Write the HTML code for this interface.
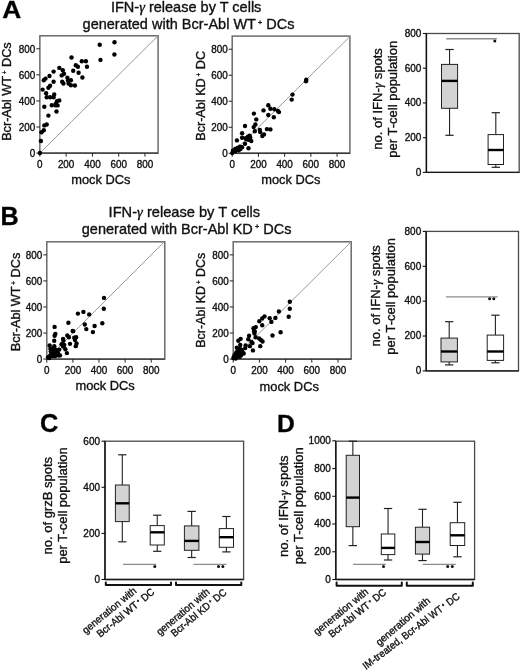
<!DOCTYPE html>
<html><head><meta charset="utf-8"><style>
html,body{margin:0;padding:0;background:#fff;}
svg{display:block;font-family:"Liberation Sans", sans-serif;filter:grayscale(100%);}
text{stroke:#111;stroke-width:0.35px;}
</style></head><body>
<svg width="520" height="671" viewBox="0 0 520 671">
<rect width="520" height="671" fill="#fff"/>
<text x="2.22" y="18.20" font-size="24.44" text-anchor="start" fill="#000" font-weight="bold" textLength="19.00" lengthAdjust="spacingAndGlyphs" >A</text>
<text x="0.59" y="224.80" font-size="25.14" text-anchor="start" fill="#000" font-weight="bold" >B</text>
<text x="40.09" y="431.80" font-size="25.28" text-anchor="start" fill="#000" font-weight="bold" >C</text>
<text x="276.92" y="432.10" font-size="24.58" text-anchor="start" fill="#000" font-weight="bold" >D</text>
<text x="110.90" y="12.20" font-size="14.4" text-anchor="start" fill="#111" textLength="150.50" lengthAdjust="spacingAndGlyphs" >IFN-<tspan font-family="Liberation Serif" font-style="italic">γ</tspan> release by T cells</text>
<text x="82.60" y="29.20" font-size="14.4" text-anchor="start" fill="#111" textLength="212.00" lengthAdjust="spacingAndGlyphs" >generated with Bcr-Abl WT<tspan font-size="0.5em" dx="0.3em" dy="-0.62em">+</tspan><tspan dx="0.0em" dy="0.31em"> </tspan>DCs</text>
<text x="108.60" y="217.20" font-size="14.4" text-anchor="start" fill="#111" textLength="151.60" lengthAdjust="spacingAndGlyphs" >IFN-<tspan font-family="Liberation Serif" font-style="italic">γ</tspan> release by T cells</text>
<text x="81.80" y="233.60" font-size="14.4" text-anchor="start" fill="#111" textLength="209.70" lengthAdjust="spacingAndGlyphs" >generated with Bcr-Abl KD<tspan font-size="0.5em" dx="0.3em" dy="-0.62em">+</tspan><tspan dx="0.0em" dy="0.31em"> </tspan>DCs</text>
<rect x="39.85" y="35.80" width="118.25" height="117.30" fill="none" stroke="#6a6a6a" stroke-width="1.5"/>
<line x1="39.85" y1="153.10" x2="158.05" y2="35.80" stroke="#9a9a9a" stroke-width="1.0"/>
<line x1="39.85" y1="153.10" x2="158.10" y2="153.10" stroke="#3a3a3a" stroke-width="1.4"/>
<line x1="36.35" y1="153.10" x2="39.85" y2="153.10" stroke="#222" stroke-width="1"/>
<text x="35.35" y="157.10" font-size="10" text-anchor="end" fill="#111" textLength="5.50" lengthAdjust="spacingAndGlyphs" >0</text>
<line x1="39.85" y1="153.10" x2="39.85" y2="156.60" stroke="#222" stroke-width="1"/>
<text x="39.85" y="167.80" font-size="10" text-anchor="middle" fill="#111" textLength="5.50" lengthAdjust="spacingAndGlyphs" >0</text>
<line x1="36.35" y1="127.02" x2="39.85" y2="127.02" stroke="#222" stroke-width="1"/>
<text x="35.35" y="131.02" font-size="10" text-anchor="end" fill="#111" textLength="16.50" lengthAdjust="spacingAndGlyphs" >200</text>
<line x1="66.13" y1="153.10" x2="66.13" y2="156.60" stroke="#222" stroke-width="1"/>
<text x="66.13" y="167.80" font-size="10" text-anchor="middle" fill="#111" textLength="16.50" lengthAdjust="spacingAndGlyphs" >200</text>
<line x1="36.35" y1="100.94" x2="39.85" y2="100.94" stroke="#222" stroke-width="1"/>
<text x="35.35" y="104.94" font-size="10" text-anchor="end" fill="#111" textLength="16.50" lengthAdjust="spacingAndGlyphs" >400</text>
<line x1="92.41" y1="153.10" x2="92.41" y2="156.60" stroke="#222" stroke-width="1"/>
<text x="92.41" y="167.80" font-size="10" text-anchor="middle" fill="#111" textLength="16.50" lengthAdjust="spacingAndGlyphs" >400</text>
<line x1="36.35" y1="74.86" x2="39.85" y2="74.86" stroke="#222" stroke-width="1"/>
<text x="35.35" y="78.86" font-size="10" text-anchor="end" fill="#111" textLength="16.50" lengthAdjust="spacingAndGlyphs" >600</text>
<line x1="118.69" y1="153.10" x2="118.69" y2="156.60" stroke="#222" stroke-width="1"/>
<text x="118.69" y="167.80" font-size="10" text-anchor="middle" fill="#111" textLength="16.50" lengthAdjust="spacingAndGlyphs" >600</text>
<line x1="36.35" y1="48.78" x2="39.85" y2="48.78" stroke="#222" stroke-width="1"/>
<text x="35.35" y="52.78" font-size="10" text-anchor="end" fill="#111" textLength="16.50" lengthAdjust="spacingAndGlyphs" >800</text>
<line x1="144.97" y1="153.10" x2="144.97" y2="156.60" stroke="#222" stroke-width="1"/>
<text x="144.97" y="167.80" font-size="10" text-anchor="middle" fill="#111" textLength="16.50" lengthAdjust="spacingAndGlyphs" >800</text>
<circle cx="71.50" cy="57.50" r="2.2" fill="#000"/>
<circle cx="81.80" cy="61.30" r="2.2" fill="#000"/>
<circle cx="85.90" cy="61.30" r="2.2" fill="#000"/>
<circle cx="75.80" cy="65.30" r="2.2" fill="#000"/>
<circle cx="77.90" cy="66.70" r="2.2" fill="#000"/>
<circle cx="87.00" cy="66.70" r="2.2" fill="#000"/>
<circle cx="59.30" cy="67.90" r="2.2" fill="#000"/>
<circle cx="62.80" cy="70.20" r="2.2" fill="#000"/>
<circle cx="73.20" cy="70.80" r="2.2" fill="#000"/>
<circle cx="53.60" cy="71.60" r="2.2" fill="#000"/>
<circle cx="64.00" cy="73.70" r="2.2" fill="#000"/>
<circle cx="78.60" cy="72.70" r="2.2" fill="#000"/>
<circle cx="61.70" cy="75.40" r="2.2" fill="#000"/>
<circle cx="49.50" cy="76.00" r="2.2" fill="#000"/>
<circle cx="82.40" cy="77.50" r="2.2" fill="#000"/>
<circle cx="67.40" cy="77.70" r="2.2" fill="#000"/>
<circle cx="45.50" cy="78.60" r="2.2" fill="#000"/>
<circle cx="43.80" cy="80.20" r="2.2" fill="#000"/>
<circle cx="70.90" cy="80.20" r="2.2" fill="#000"/>
<circle cx="68.00" cy="80.60" r="2.2" fill="#000"/>
<circle cx="53.60" cy="81.70" r="2.2" fill="#000"/>
<circle cx="62.20" cy="81.70" r="2.2" fill="#000"/>
<circle cx="63.40" cy="83.50" r="2.2" fill="#000"/>
<circle cx="68.60" cy="83.50" r="2.2" fill="#000"/>
<circle cx="70.90" cy="85.20" r="2.2" fill="#000"/>
<circle cx="74.90" cy="85.50" r="2.2" fill="#000"/>
<circle cx="50.10" cy="85.80" r="2.2" fill="#000"/>
<circle cx="48.40" cy="87.80" r="2.2" fill="#000"/>
<circle cx="42.60" cy="89.60" r="2.2" fill="#000"/>
<circle cx="46.10" cy="93.30" r="2.2" fill="#000"/>
<circle cx="54.20" cy="94.40" r="2.2" fill="#000"/>
<circle cx="46.70" cy="97.30" r="2.2" fill="#000"/>
<circle cx="50.10" cy="97.30" r="2.2" fill="#000"/>
<circle cx="53.60" cy="97.30" r="2.2" fill="#000"/>
<circle cx="59.30" cy="100.40" r="2.2" fill="#000"/>
<circle cx="57.00" cy="101.30" r="2.2" fill="#000"/>
<circle cx="51.80" cy="105.20" r="2.2" fill="#000"/>
<circle cx="55.30" cy="105.20" r="2.2" fill="#000"/>
<circle cx="57.60" cy="105.40" r="2.2" fill="#000"/>
<circle cx="55.90" cy="103.70" r="2.2" fill="#000"/>
<circle cx="44.30" cy="106.80" r="2.2" fill="#000"/>
<circle cx="56.50" cy="111.50" r="2.2" fill="#000"/>
<circle cx="48.40" cy="115.60" r="2.2" fill="#000"/>
<circle cx="44.30" cy="125.40" r="2.2" fill="#000"/>
<circle cx="46.70" cy="124.50" r="2.2" fill="#000"/>
<circle cx="43.80" cy="130.20" r="2.2" fill="#000"/>
<circle cx="41.50" cy="132.30" r="2.2" fill="#000"/>
<circle cx="40.90" cy="141.00" r="2.2" fill="#000"/>
<circle cx="39.90" cy="153.00" r="2.2" fill="#000"/>
<circle cx="99.70" cy="44.70" r="2.2" fill="#000"/>
<circle cx="114.50" cy="42.30" r="2.2" fill="#000"/>
<circle cx="114.40" cy="54.50" r="2.2" fill="#000"/>
<circle cx="100.50" cy="59.90" r="2.2" fill="#000"/>
<text x="100.90" y="183.50" font-size="12.8" text-anchor="middle" fill="#111" textLength="59.30" lengthAdjust="spacingAndGlyphs" >mock DCs</text>
<text x="10.70" y="91.60" font-size="12.6" text-anchor="middle" fill="#111" textLength="98.50" lengthAdjust="spacingAndGlyphs" transform="rotate(-90 10.70 91.60)" >Bcr-Abl WT<tspan font-size="0.5em" dx="0.3em" dy="-0.62em">+</tspan><tspan dx="0.0em" dy="0.31em"> </tspan>DCs</text>
<rect x="232.20" y="36.10" width="117.70" height="117.20" fill="none" stroke="#6a6a6a" stroke-width="1.5"/>
<line x1="232.20" y1="153.30" x2="349.90" y2="36.50" stroke="#9a9a9a" stroke-width="1.0"/>
<line x1="232.20" y1="153.30" x2="349.90" y2="153.30" stroke="#3a3a3a" stroke-width="1.4"/>
<line x1="228.70" y1="153.30" x2="232.20" y2="153.30" stroke="#222" stroke-width="1"/>
<text x="227.70" y="157.30" font-size="10" text-anchor="end" fill="#111" textLength="5.50" lengthAdjust="spacingAndGlyphs" >0</text>
<line x1="232.20" y1="153.30" x2="232.20" y2="156.80" stroke="#222" stroke-width="1"/>
<text x="232.20" y="168.00" font-size="10" text-anchor="middle" fill="#111" textLength="5.50" lengthAdjust="spacingAndGlyphs" >0</text>
<line x1="228.70" y1="127.28" x2="232.20" y2="127.28" stroke="#222" stroke-width="1"/>
<text x="227.70" y="131.28" font-size="10" text-anchor="end" fill="#111" textLength="16.50" lengthAdjust="spacingAndGlyphs" >200</text>
<line x1="258.42" y1="153.30" x2="258.42" y2="156.80" stroke="#222" stroke-width="1"/>
<text x="258.42" y="168.00" font-size="10" text-anchor="middle" fill="#111" textLength="16.50" lengthAdjust="spacingAndGlyphs" >200</text>
<line x1="228.70" y1="101.26" x2="232.20" y2="101.26" stroke="#222" stroke-width="1"/>
<text x="227.70" y="105.26" font-size="10" text-anchor="end" fill="#111" textLength="16.50" lengthAdjust="spacingAndGlyphs" >400</text>
<line x1="284.64" y1="153.30" x2="284.64" y2="156.80" stroke="#222" stroke-width="1"/>
<text x="284.64" y="168.00" font-size="10" text-anchor="middle" fill="#111" textLength="16.50" lengthAdjust="spacingAndGlyphs" >400</text>
<line x1="228.70" y1="75.24" x2="232.20" y2="75.24" stroke="#222" stroke-width="1"/>
<text x="227.70" y="79.24" font-size="10" text-anchor="end" fill="#111" textLength="16.50" lengthAdjust="spacingAndGlyphs" >600</text>
<line x1="310.86" y1="153.30" x2="310.86" y2="156.80" stroke="#222" stroke-width="1"/>
<text x="310.86" y="168.00" font-size="10" text-anchor="middle" fill="#111" textLength="16.50" lengthAdjust="spacingAndGlyphs" >600</text>
<line x1="228.70" y1="49.22" x2="232.20" y2="49.22" stroke="#222" stroke-width="1"/>
<text x="227.70" y="53.22" font-size="10" text-anchor="end" fill="#111" textLength="16.50" lengthAdjust="spacingAndGlyphs" >800</text>
<line x1="337.08" y1="153.30" x2="337.08" y2="156.80" stroke="#222" stroke-width="1"/>
<text x="337.08" y="168.00" font-size="10" text-anchor="middle" fill="#111" textLength="16.50" lengthAdjust="spacingAndGlyphs" >800</text>
<circle cx="268.30" cy="105.20" r="2.2" fill="#000"/>
<circle cx="270.40" cy="108.70" r="2.2" fill="#000"/>
<circle cx="274.40" cy="109.20" r="2.2" fill="#000"/>
<circle cx="277.90" cy="111.00" r="2.2" fill="#000"/>
<circle cx="279.00" cy="112.10" r="2.2" fill="#000"/>
<circle cx="263.50" cy="110.40" r="2.2" fill="#000"/>
<circle cx="253.90" cy="113.60" r="2.2" fill="#000"/>
<circle cx="268.30" cy="115.00" r="2.2" fill="#000"/>
<circle cx="273.80" cy="117.30" r="2.2" fill="#000"/>
<circle cx="256.30" cy="119.40" r="2.2" fill="#000"/>
<circle cx="255.40" cy="124.50" r="2.2" fill="#000"/>
<circle cx="253.70" cy="127.10" r="2.2" fill="#000"/>
<circle cx="245.00" cy="126.00" r="2.2" fill="#000"/>
<circle cx="259.80" cy="130.00" r="2.2" fill="#000"/>
<circle cx="260.20" cy="132.10" r="2.2" fill="#000"/>
<circle cx="254.80" cy="131.20" r="2.2" fill="#000"/>
<circle cx="266.90" cy="129.10" r="2.2" fill="#000"/>
<circle cx="270.40" cy="129.40" r="2.2" fill="#000"/>
<circle cx="242.10" cy="133.20" r="2.2" fill="#000"/>
<circle cx="264.00" cy="134.40" r="2.2" fill="#000"/>
<circle cx="262.30" cy="136.00" r="2.2" fill="#000"/>
<circle cx="242.10" cy="137.80" r="2.2" fill="#000"/>
<circle cx="247.90" cy="136.70" r="2.2" fill="#000"/>
<circle cx="250.20" cy="137.50" r="2.2" fill="#000"/>
<circle cx="246.20" cy="139.20" r="2.2" fill="#000"/>
<circle cx="248.50" cy="139.80" r="2.2" fill="#000"/>
<circle cx="251.30" cy="141.00" r="2.2" fill="#000"/>
<circle cx="236.90" cy="140.40" r="2.2" fill="#000"/>
<circle cx="245.00" cy="143.80" r="2.2" fill="#000"/>
<circle cx="248.50" cy="148.20" r="2.2" fill="#000"/>
<circle cx="242.10" cy="147.30" r="2.2" fill="#000"/>
<circle cx="239.80" cy="146.70" r="2.2" fill="#000"/>
<circle cx="237.50" cy="147.90" r="2.2" fill="#000"/>
<circle cx="235.20" cy="149.00" r="2.2" fill="#000"/>
<circle cx="238.70" cy="150.20" r="2.2" fill="#000"/>
<circle cx="232.90" cy="150.80" r="2.2" fill="#000"/>
<circle cx="232.30" cy="153.10" r="2.2" fill="#000"/>
<circle cx="235.20" cy="151.30" r="2.2" fill="#000"/>
<circle cx="236.30" cy="149.60" r="2.2" fill="#000"/>
<circle cx="240.40" cy="149.00" r="2.2" fill="#000"/>
<circle cx="245.60" cy="138.10" r="2.2" fill="#000"/>
<circle cx="249.60" cy="135.80" r="2.2" fill="#000"/>
<circle cx="306.30" cy="79.80" r="2.2" fill="#000"/>
<circle cx="306.00" cy="81.30" r="2.2" fill="#000"/>
<circle cx="292.50" cy="94.60" r="2.2" fill="#000"/>
<circle cx="291.70" cy="99.60" r="2.2" fill="#000"/>
<text x="290.90" y="183.50" font-size="12.8" text-anchor="middle" fill="#111" textLength="59.30" lengthAdjust="spacingAndGlyphs" >mock DCs</text>
<text x="205.20" y="95.85" font-size="12.6" text-anchor="middle" fill="#111" textLength="89.90" lengthAdjust="spacingAndGlyphs" transform="rotate(-90 205.20 95.85)" >Bcr-Abl KD<tspan font-size="0.5em" dx="0.3em" dy="-0.62em">+</tspan><tspan dx="0.0em" dy="0.31em"> </tspan>DC</text>
<rect x="46.80" y="241.80" width="118.00" height="117.30" fill="none" stroke="#6a6a6a" stroke-width="1.5"/>
<line x1="46.80" y1="359.10" x2="164.28" y2="241.80" stroke="#9a9a9a" stroke-width="1.0"/>
<line x1="46.80" y1="359.10" x2="164.80" y2="359.10" stroke="#3a3a3a" stroke-width="1.4"/>
<line x1="43.30" y1="359.10" x2="46.80" y2="359.10" stroke="#222" stroke-width="1"/>
<text x="42.30" y="363.10" font-size="10" text-anchor="end" fill="#111" textLength="5.50" lengthAdjust="spacingAndGlyphs" >0</text>
<line x1="46.80" y1="359.10" x2="46.80" y2="362.60" stroke="#222" stroke-width="1"/>
<text x="46.80" y="373.80" font-size="10" text-anchor="middle" fill="#111" textLength="5.50" lengthAdjust="spacingAndGlyphs" >0</text>
<line x1="43.30" y1="333.04" x2="46.80" y2="333.04" stroke="#222" stroke-width="1"/>
<text x="42.30" y="337.04" font-size="10" text-anchor="end" fill="#111" textLength="16.50" lengthAdjust="spacingAndGlyphs" >200</text>
<line x1="72.90" y1="359.10" x2="72.90" y2="362.60" stroke="#222" stroke-width="1"/>
<text x="72.90" y="373.80" font-size="10" text-anchor="middle" fill="#111" textLength="16.50" lengthAdjust="spacingAndGlyphs" >200</text>
<line x1="43.30" y1="306.98" x2="46.80" y2="306.98" stroke="#222" stroke-width="1"/>
<text x="42.30" y="310.98" font-size="10" text-anchor="end" fill="#111" textLength="16.50" lengthAdjust="spacingAndGlyphs" >400</text>
<line x1="99.00" y1="359.10" x2="99.00" y2="362.60" stroke="#222" stroke-width="1"/>
<text x="99.00" y="373.80" font-size="10" text-anchor="middle" fill="#111" textLength="16.50" lengthAdjust="spacingAndGlyphs" >400</text>
<line x1="43.30" y1="280.92" x2="46.80" y2="280.92" stroke="#222" stroke-width="1"/>
<text x="42.30" y="284.92" font-size="10" text-anchor="end" fill="#111" textLength="16.50" lengthAdjust="spacingAndGlyphs" >600</text>
<line x1="125.10" y1="359.10" x2="125.10" y2="362.60" stroke="#222" stroke-width="1"/>
<text x="125.10" y="373.80" font-size="10" text-anchor="middle" fill="#111" textLength="16.50" lengthAdjust="spacingAndGlyphs" >600</text>
<line x1="43.30" y1="254.86" x2="46.80" y2="254.86" stroke="#222" stroke-width="1"/>
<text x="42.30" y="258.86" font-size="10" text-anchor="end" fill="#111" textLength="16.50" lengthAdjust="spacingAndGlyphs" >800</text>
<line x1="151.20" y1="359.10" x2="151.20" y2="362.60" stroke="#222" stroke-width="1"/>
<text x="151.20" y="373.80" font-size="10" text-anchor="middle" fill="#111" textLength="16.50" lengthAdjust="spacingAndGlyphs" >800</text>
<circle cx="77.90" cy="313.60" r="2.2" fill="#000"/>
<circle cx="83.40" cy="311.90" r="2.2" fill="#000"/>
<circle cx="89.20" cy="314.40" r="2.2" fill="#000"/>
<circle cx="103.80" cy="308.70" r="2.2" fill="#000"/>
<circle cx="68.40" cy="322.80" r="2.2" fill="#000"/>
<circle cx="84.80" cy="324.50" r="2.2" fill="#000"/>
<circle cx="94.60" cy="326.00" r="2.2" fill="#000"/>
<circle cx="102.30" cy="323.30" r="2.2" fill="#000"/>
<circle cx="54.60" cy="326.90" r="2.2" fill="#000"/>
<circle cx="86.30" cy="329.10" r="2.2" fill="#000"/>
<circle cx="92.90" cy="332.10" r="2.2" fill="#000"/>
<circle cx="72.70" cy="330.90" r="2.2" fill="#000"/>
<circle cx="104.00" cy="297.90" r="2.2" fill="#000"/>
<circle cx="55.38" cy="333.85" r="2.2" fill="#000"/>
<circle cx="54.62" cy="335.77" r="2.2" fill="#000"/>
<circle cx="54.23" cy="340.77" r="2.2" fill="#000"/>
<circle cx="49.62" cy="345.38" r="2.2" fill="#000"/>
<circle cx="54.23" cy="346.15" r="2.2" fill="#000"/>
<circle cx="67.31" cy="335.38" r="2.2" fill="#000"/>
<circle cx="68.85" cy="337.31" r="2.2" fill="#000"/>
<circle cx="73.08" cy="331.15" r="2.2" fill="#000"/>
<circle cx="74.23" cy="337.69" r="2.2" fill="#000"/>
<circle cx="76.15" cy="337.31" r="2.2" fill="#000"/>
<circle cx="75.00" cy="340.00" r="2.2" fill="#000"/>
<circle cx="76.54" cy="343.46" r="2.2" fill="#000"/>
<circle cx="75.77" cy="346.15" r="2.2" fill="#000"/>
<circle cx="63.08" cy="338.85" r="2.2" fill="#000"/>
<circle cx="63.46" cy="340.77" r="2.2" fill="#000"/>
<circle cx="61.54" cy="344.23" r="2.2" fill="#000"/>
<circle cx="64.23" cy="345.00" r="2.2" fill="#000"/>
<circle cx="63.08" cy="346.54" r="2.2" fill="#000"/>
<circle cx="65.38" cy="349.23" r="2.2" fill="#000"/>
<circle cx="66.92" cy="353.08" r="2.2" fill="#000"/>
<circle cx="70.00" cy="343.85" r="2.2" fill="#000"/>
<circle cx="59.23" cy="349.62" r="2.2" fill="#000"/>
<circle cx="60.00" cy="355.38" r="2.2" fill="#000"/>
<circle cx="50.38" cy="348.85" r="2.2" fill="#000"/>
<circle cx="52.69" cy="348.46" r="2.2" fill="#000"/>
<circle cx="55.00" cy="349.23" r="2.2" fill="#000"/>
<circle cx="57.31" cy="350.38" r="2.2" fill="#000"/>
<circle cx="50.77" cy="351.54" r="2.2" fill="#000"/>
<circle cx="53.46" cy="351.54" r="2.2" fill="#000"/>
<circle cx="56.15" cy="352.31" r="2.2" fill="#000"/>
<circle cx="58.08" cy="353.08" r="2.2" fill="#000"/>
<circle cx="51.15" cy="354.23" r="2.2" fill="#000"/>
<circle cx="53.85" cy="354.23" r="2.2" fill="#000"/>
<circle cx="56.54" cy="354.62" r="2.2" fill="#000"/>
<circle cx="58.46" cy="355.38" r="2.2" fill="#000"/>
<circle cx="50.00" cy="355.77" r="2.2" fill="#000"/>
<circle cx="52.69" cy="356.15" r="2.2" fill="#000"/>
<circle cx="55.00" cy="356.15" r="2.2" fill="#000"/>
<circle cx="48.08" cy="357.31" r="2.2" fill="#000"/>
<circle cx="49.23" cy="358.08" r="2.2" fill="#000"/>
<text x="105.10" y="390.40" font-size="12.8" text-anchor="middle" fill="#111" textLength="59.30" lengthAdjust="spacingAndGlyphs" >mock DCs</text>
<text x="20.00" y="302.00" font-size="12.6" text-anchor="middle" fill="#111" textLength="98.50" lengthAdjust="spacingAndGlyphs" transform="rotate(-90 20.00 302.00)" >Bcr-Abl WT<tspan font-size="0.5em" dx="0.3em" dy="-0.62em">+</tspan><tspan dx="0.0em" dy="0.31em"> </tspan>DCs</text>
<rect x="233.20" y="241.80" width="118.00" height="117.30" fill="none" stroke="#6a6a6a" stroke-width="1.5"/>
<line x1="233.20" y1="359.10" x2="351.13" y2="241.80" stroke="#9a9a9a" stroke-width="1.0"/>
<line x1="233.20" y1="359.10" x2="351.20" y2="359.10" stroke="#3a3a3a" stroke-width="1.4"/>
<line x1="229.70" y1="359.10" x2="233.20" y2="359.10" stroke="#222" stroke-width="1"/>
<text x="228.70" y="363.10" font-size="10" text-anchor="end" fill="#111" textLength="5.50" lengthAdjust="spacingAndGlyphs" >0</text>
<line x1="233.20" y1="359.10" x2="233.20" y2="362.60" stroke="#222" stroke-width="1"/>
<text x="233.20" y="373.80" font-size="10" text-anchor="middle" fill="#111" textLength="5.50" lengthAdjust="spacingAndGlyphs" >0</text>
<line x1="229.70" y1="333.04" x2="233.20" y2="333.04" stroke="#222" stroke-width="1"/>
<text x="228.70" y="337.04" font-size="10" text-anchor="end" fill="#111" textLength="16.50" lengthAdjust="spacingAndGlyphs" >200</text>
<line x1="259.40" y1="359.10" x2="259.40" y2="362.60" stroke="#222" stroke-width="1"/>
<text x="259.40" y="373.80" font-size="10" text-anchor="middle" fill="#111" textLength="16.50" lengthAdjust="spacingAndGlyphs" >200</text>
<line x1="229.70" y1="306.98" x2="233.20" y2="306.98" stroke="#222" stroke-width="1"/>
<text x="228.70" y="310.98" font-size="10" text-anchor="end" fill="#111" textLength="16.50" lengthAdjust="spacingAndGlyphs" >400</text>
<line x1="285.60" y1="359.10" x2="285.60" y2="362.60" stroke="#222" stroke-width="1"/>
<text x="285.60" y="373.80" font-size="10" text-anchor="middle" fill="#111" textLength="16.50" lengthAdjust="spacingAndGlyphs" >400</text>
<line x1="229.70" y1="280.92" x2="233.20" y2="280.92" stroke="#222" stroke-width="1"/>
<text x="228.70" y="284.92" font-size="10" text-anchor="end" fill="#111" textLength="16.50" lengthAdjust="spacingAndGlyphs" >600</text>
<line x1="311.80" y1="359.10" x2="311.80" y2="362.60" stroke="#222" stroke-width="1"/>
<text x="311.80" y="373.80" font-size="10" text-anchor="middle" fill="#111" textLength="16.50" lengthAdjust="spacingAndGlyphs" >600</text>
<line x1="229.70" y1="254.86" x2="233.20" y2="254.86" stroke="#222" stroke-width="1"/>
<text x="228.70" y="258.86" font-size="10" text-anchor="end" fill="#111" textLength="16.50" lengthAdjust="spacingAndGlyphs" >800</text>
<line x1="338.00" y1="359.10" x2="338.00" y2="362.60" stroke="#222" stroke-width="1"/>
<text x="338.00" y="373.80" font-size="10" text-anchor="middle" fill="#111" textLength="16.50" lengthAdjust="spacingAndGlyphs" >800</text>
<circle cx="289.80" cy="301.70" r="2.2" fill="#000"/>
<circle cx="289.80" cy="308.70" r="2.2" fill="#000"/>
<circle cx="278.90" cy="311.50" r="2.2" fill="#000"/>
<circle cx="288.70" cy="316.70" r="2.2" fill="#000"/>
<circle cx="264.50" cy="316.40" r="2.2" fill="#000"/>
<circle cx="262.20" cy="318.50" r="2.2" fill="#000"/>
<circle cx="269.70" cy="318.20" r="2.2" fill="#000"/>
<circle cx="275.40" cy="317.90" r="2.2" fill="#000"/>
<circle cx="259.30" cy="321.30" r="2.2" fill="#000"/>
<circle cx="271.40" cy="321.90" r="2.2" fill="#000"/>
<circle cx="262.20" cy="325.20" r="2.2" fill="#000"/>
<circle cx="255.80" cy="327.10" r="2.2" fill="#000"/>
<circle cx="253.50" cy="328.30" r="2.2" fill="#000"/>
<circle cx="254.70" cy="331.20" r="2.2" fill="#000"/>
<circle cx="280.60" cy="332.30" r="2.2" fill="#000"/>
<circle cx="272.50" cy="335.50" r="2.2" fill="#000"/>
<circle cx="254.08" cy="331.54" r="2.2" fill="#000"/>
<circle cx="254.46" cy="333.46" r="2.2" fill="#000"/>
<circle cx="255.62" cy="337.31" r="2.2" fill="#000"/>
<circle cx="259.08" cy="338.46" r="2.2" fill="#000"/>
<circle cx="261.00" cy="340.00" r="2.2" fill="#000"/>
<circle cx="262.54" cy="341.54" r="2.2" fill="#000"/>
<circle cx="260.23" cy="346.15" r="2.2" fill="#000"/>
<circle cx="249.08" cy="335.77" r="2.2" fill="#000"/>
<circle cx="248.31" cy="339.23" r="2.2" fill="#000"/>
<circle cx="251.38" cy="341.92" r="2.2" fill="#000"/>
<circle cx="252.54" cy="343.08" r="2.2" fill="#000"/>
<circle cx="240.62" cy="338.85" r="2.2" fill="#000"/>
<circle cx="238.31" cy="340.77" r="2.2" fill="#000"/>
<circle cx="245.62" cy="345.38" r="2.2" fill="#000"/>
<circle cx="249.85" cy="346.15" r="2.2" fill="#000"/>
<circle cx="245.23" cy="348.08" r="2.2" fill="#000"/>
<circle cx="240.23" cy="345.00" r="2.2" fill="#000"/>
<circle cx="236.77" cy="347.69" r="2.2" fill="#000"/>
<circle cx="252.92" cy="350.38" r="2.2" fill="#000"/>
<circle cx="239.85" cy="348.46" r="2.2" fill="#000"/>
<circle cx="241.77" cy="350.00" r="2.2" fill="#000"/>
<circle cx="238.69" cy="350.77" r="2.2" fill="#000"/>
<circle cx="242.54" cy="352.31" r="2.2" fill="#000"/>
<circle cx="236.38" cy="352.31" r="2.2" fill="#000"/>
<circle cx="240.23" cy="353.08" r="2.2" fill="#000"/>
<circle cx="243.69" cy="353.46" r="2.2" fill="#000"/>
<circle cx="234.85" cy="354.62" r="2.2" fill="#000"/>
<circle cx="237.92" cy="354.62" r="2.2" fill="#000"/>
<circle cx="241.00" cy="355.38" r="2.2" fill="#000"/>
<circle cx="234.08" cy="356.54" r="2.2" fill="#000"/>
<circle cx="236.77" cy="356.54" r="2.2" fill="#000"/>
<circle cx="239.46" cy="356.92" r="2.2" fill="#000"/>
<circle cx="233.31" cy="358.08" r="2.2" fill="#000"/>
<circle cx="235.62" cy="358.46" r="2.2" fill="#000"/>
<text x="289.20" y="390.60" font-size="12.8" text-anchor="middle" fill="#111" textLength="59.30" lengthAdjust="spacingAndGlyphs" >mock DCs</text>
<text x="204.80" y="300.20" font-size="12.6" text-anchor="middle" fill="#111" textLength="95.00" lengthAdjust="spacingAndGlyphs" transform="rotate(-90 204.80 300.20)" >Bcr-Abl KD<tspan font-size="0.5em" dx="0.3em" dy="-0.62em">+</tspan><tspan dx="0.0em" dy="0.31em"> </tspan>DCs</text>
<rect x="426.40" y="33.50" width="92.80" height="138.90" fill="none" stroke="#4a4a4a" stroke-width="1.3"/>
<line x1="426.40" y1="33.50" x2="426.40" y2="172.40" stroke="#111" stroke-width="1.4"/>
<line x1="426.40" y1="172.40" x2="519.20" y2="172.40" stroke="#1a1a1a" stroke-width="1.4"/>
<line x1="422.90" y1="33.50" x2="426.40" y2="33.50" stroke="#111" stroke-width="1.1"/>
<text x="421.40" y="36.80" font-size="10" text-anchor="end" fill="#111" textLength="16.65" lengthAdjust="spacingAndGlyphs" >800</text>
<line x1="422.90" y1="68.22" x2="426.40" y2="68.22" stroke="#111" stroke-width="1.1"/>
<text x="421.40" y="71.52" font-size="10" text-anchor="end" fill="#111" textLength="16.65" lengthAdjust="spacingAndGlyphs" >600</text>
<line x1="422.90" y1="102.95" x2="426.40" y2="102.95" stroke="#111" stroke-width="1.1"/>
<text x="421.40" y="106.25" font-size="10" text-anchor="end" fill="#111" textLength="16.65" lengthAdjust="spacingAndGlyphs" >400</text>
<line x1="422.90" y1="137.68" x2="426.40" y2="137.68" stroke="#111" stroke-width="1.1"/>
<text x="421.40" y="140.98" font-size="10" text-anchor="end" fill="#111" textLength="16.65" lengthAdjust="spacingAndGlyphs" >200</text>
<line x1="422.90" y1="172.40" x2="426.40" y2="172.40" stroke="#111" stroke-width="1.1"/>
<text x="421.40" y="175.70" font-size="10" text-anchor="end" fill="#111" textLength="5.55" lengthAdjust="spacingAndGlyphs" >0</text>
<line x1="449.55" y1="49.50" x2="449.55" y2="64.40" stroke="#222" stroke-width="1.1"/>
<line x1="449.55" y1="108.30" x2="449.55" y2="135.30" stroke="#222" stroke-width="1.1"/>
<line x1="445.40" y1="49.50" x2="453.70" y2="49.50" stroke="#222" stroke-width="1.2"/>
<line x1="445.40" y1="135.30" x2="453.70" y2="135.30" stroke="#222" stroke-width="1.2"/>
<rect x="441.50" y="64.40" width="16.10" height="43.90" fill="#d3d3d3" stroke="#222" stroke-width="1"/>
<line x1="441.50" y1="80.90" x2="457.60" y2="80.90" stroke="#000" stroke-width="2.4"/>
<line x1="495.80" y1="112.70" x2="495.80" y2="134.60" stroke="#222" stroke-width="1.1"/>
<line x1="495.80" y1="164.50" x2="495.80" y2="167.30" stroke="#222" stroke-width="1.1"/>
<line x1="491.65" y1="112.70" x2="499.95" y2="112.70" stroke="#222" stroke-width="1.2"/>
<line x1="491.65" y1="167.30" x2="499.95" y2="167.30" stroke="#222" stroke-width="1.2"/>
<rect x="488.10" y="134.60" width="15.40" height="29.90" fill="#fff" stroke="#222" stroke-width="1"/>
<line x1="488.10" y1="150.00" x2="503.50" y2="150.00" stroke="#000" stroke-width="2.4"/>
<line x1="446.20" y1="38.70" x2="496.90" y2="38.70" stroke="#8c8c8c" stroke-width="1.4"/>
<circle cx="494.80" cy="41.00" r="1.5" fill="#111"/>
<text x="381.80" y="98.95" font-size="13" text-anchor="middle" fill="#111" textLength="101.70" lengthAdjust="spacingAndGlyphs" transform="rotate(-90 381.80 98.95)" >no. of IFN-<tspan font-family="Liberation Serif" font-style="italic">γ</tspan> spots</text>
<text x="397.20" y="99.25" font-size="13" text-anchor="middle" fill="#111" textLength="116.90" lengthAdjust="spacingAndGlyphs" transform="rotate(-90 397.20 99.25)" >per T-cell population</text>
<rect x="426.20" y="231.40" width="92.30" height="139.50" fill="none" stroke="#4a4a4a" stroke-width="1.3"/>
<line x1="426.20" y1="231.40" x2="426.20" y2="370.90" stroke="#111" stroke-width="1.4"/>
<line x1="426.20" y1="370.90" x2="518.50" y2="370.90" stroke="#1a1a1a" stroke-width="1.4"/>
<line x1="422.70" y1="231.40" x2="426.20" y2="231.40" stroke="#111" stroke-width="1.1"/>
<text x="421.20" y="234.70" font-size="10" text-anchor="end" fill="#111" textLength="16.65" lengthAdjust="spacingAndGlyphs" >800</text>
<line x1="422.70" y1="266.27" x2="426.20" y2="266.27" stroke="#111" stroke-width="1.1"/>
<text x="421.20" y="269.57" font-size="10" text-anchor="end" fill="#111" textLength="16.65" lengthAdjust="spacingAndGlyphs" >600</text>
<line x1="422.70" y1="301.15" x2="426.20" y2="301.15" stroke="#111" stroke-width="1.1"/>
<text x="421.20" y="304.45" font-size="10" text-anchor="end" fill="#111" textLength="16.65" lengthAdjust="spacingAndGlyphs" >400</text>
<line x1="422.70" y1="336.02" x2="426.20" y2="336.02" stroke="#111" stroke-width="1.1"/>
<text x="421.20" y="339.32" font-size="10" text-anchor="end" fill="#111" textLength="16.65" lengthAdjust="spacingAndGlyphs" >200</text>
<line x1="422.70" y1="370.90" x2="426.20" y2="370.90" stroke="#111" stroke-width="1.1"/>
<text x="421.20" y="374.20" font-size="10" text-anchor="end" fill="#111" textLength="5.55" lengthAdjust="spacingAndGlyphs" >0</text>
<line x1="449.20" y1="321.70" x2="449.20" y2="338.10" stroke="#222" stroke-width="1.1"/>
<line x1="449.20" y1="361.90" x2="449.20" y2="364.90" stroke="#222" stroke-width="1.1"/>
<line x1="445.05" y1="321.70" x2="453.35" y2="321.70" stroke="#222" stroke-width="1.2"/>
<line x1="445.05" y1="364.90" x2="453.35" y2="364.90" stroke="#222" stroke-width="1.2"/>
<rect x="441.00" y="338.10" width="16.40" height="23.80" fill="#d3d3d3" stroke="#222" stroke-width="1"/>
<line x1="441.00" y1="351.50" x2="457.40" y2="351.50" stroke="#000" stroke-width="2.4"/>
<line x1="495.40" y1="315.20" x2="495.40" y2="335.10" stroke="#222" stroke-width="1.1"/>
<line x1="495.40" y1="360.40" x2="495.40" y2="362.80" stroke="#222" stroke-width="1.1"/>
<line x1="491.25" y1="315.20" x2="499.55" y2="315.20" stroke="#222" stroke-width="1.2"/>
<line x1="491.25" y1="362.80" x2="499.55" y2="362.80" stroke="#222" stroke-width="1.2"/>
<rect x="487.20" y="335.10" width="16.40" height="25.30" fill="#fff" stroke="#222" stroke-width="1"/>
<line x1="487.20" y1="351.50" x2="503.60" y2="351.50" stroke="#000" stroke-width="2.4"/>
<line x1="446.00" y1="296.90" x2="497.70" y2="296.90" stroke="#8c8c8c" stroke-width="1.4"/>
<circle cx="489.60" cy="298.80" r="1.5" fill="#111"/>
<circle cx="493.80" cy="298.80" r="1.5" fill="#111"/>
<text x="380.00" y="295.90" font-size="13" text-anchor="middle" fill="#111" textLength="101.30" lengthAdjust="spacingAndGlyphs" transform="rotate(-90 380.00 295.90)" >no. of IFN-<tspan font-family="Liberation Serif" font-style="italic">γ</tspan> spots</text>
<text x="395.30" y="296.40" font-size="13" text-anchor="middle" fill="#111" textLength="116.50" lengthAdjust="spacingAndGlyphs" transform="rotate(-90 395.30 296.40)" >per T-cell population</text>
<rect x="105.00" y="441.20" width="138.60" height="138.30" fill="none" stroke="#4a4a4a" stroke-width="1.3"/>
<line x1="105.00" y1="441.20" x2="105.00" y2="579.50" stroke="#111" stroke-width="1.4"/>
<line x1="105.00" y1="579.50" x2="243.60" y2="579.50" stroke="#1a1a1a" stroke-width="1.4"/>
<line x1="101.50" y1="441.20" x2="105.00" y2="441.20" stroke="#111" stroke-width="1.1"/>
<text x="100.00" y="444.50" font-size="10" text-anchor="end" fill="#111" textLength="16.65" lengthAdjust="spacingAndGlyphs" >600</text>
<line x1="101.50" y1="487.30" x2="105.00" y2="487.30" stroke="#111" stroke-width="1.1"/>
<text x="100.00" y="490.60" font-size="10" text-anchor="end" fill="#111" textLength="16.65" lengthAdjust="spacingAndGlyphs" >400</text>
<line x1="101.50" y1="533.40" x2="105.00" y2="533.40" stroke="#111" stroke-width="1.1"/>
<text x="100.00" y="536.70" font-size="10" text-anchor="end" fill="#111" textLength="16.65" lengthAdjust="spacingAndGlyphs" >200</text>
<line x1="101.50" y1="579.50" x2="105.00" y2="579.50" stroke="#111" stroke-width="1.1"/>
<text x="100.00" y="582.80" font-size="10" text-anchor="end" fill="#111" textLength="5.55" lengthAdjust="spacingAndGlyphs" >0</text>
<line x1="122.30" y1="454.80" x2="122.30" y2="485.00" stroke="#222" stroke-width="1.1"/>
<line x1="122.30" y1="521.60" x2="122.30" y2="541.80" stroke="#222" stroke-width="1.1"/>
<line x1="118.15" y1="454.80" x2="126.45" y2="454.80" stroke="#222" stroke-width="1.2"/>
<line x1="118.15" y1="541.80" x2="126.45" y2="541.80" stroke="#222" stroke-width="1.2"/>
<rect x="115.40" y="485.00" width="13.80" height="36.60" fill="#d3d3d3" stroke="#222" stroke-width="1"/>
<line x1="115.40" y1="503.30" x2="129.20" y2="503.30" stroke="#000" stroke-width="2.4"/>
<line x1="157.25" y1="515.20" x2="157.25" y2="525.60" stroke="#222" stroke-width="1.1"/>
<line x1="157.25" y1="545.00" x2="157.25" y2="551.30" stroke="#222" stroke-width="1.1"/>
<line x1="153.10" y1="515.20" x2="161.40" y2="515.20" stroke="#222" stroke-width="1.2"/>
<line x1="153.10" y1="551.30" x2="161.40" y2="551.30" stroke="#222" stroke-width="1.2"/>
<rect x="150.20" y="525.60" width="14.10" height="19.40" fill="#fff" stroke="#222" stroke-width="1"/>
<line x1="150.20" y1="532.30" x2="164.30" y2="532.30" stroke="#000" stroke-width="2.4"/>
<line x1="191.65" y1="511.40" x2="191.65" y2="525.90" stroke="#222" stroke-width="1.1"/>
<line x1="191.65" y1="550.30" x2="191.65" y2="557.50" stroke="#222" stroke-width="1.1"/>
<line x1="187.50" y1="511.40" x2="195.80" y2="511.40" stroke="#222" stroke-width="1.2"/>
<line x1="187.50" y1="557.50" x2="195.80" y2="557.50" stroke="#222" stroke-width="1.2"/>
<rect x="184.40" y="525.90" width="14.50" height="24.40" fill="#d3d3d3" stroke="#222" stroke-width="1"/>
<line x1="184.40" y1="540.90" x2="198.90" y2="540.90" stroke="#000" stroke-width="2.4"/>
<line x1="226.40" y1="516.50" x2="226.40" y2="528.60" stroke="#222" stroke-width="1.1"/>
<line x1="226.40" y1="547.30" x2="226.40" y2="551.90" stroke="#222" stroke-width="1.1"/>
<line x1="222.25" y1="516.50" x2="230.55" y2="516.50" stroke="#222" stroke-width="1.2"/>
<line x1="222.25" y1="551.90" x2="230.55" y2="551.90" stroke="#222" stroke-width="1.2"/>
<rect x="219.30" y="528.60" width="14.20" height="18.70" fill="#fff" stroke="#222" stroke-width="1"/>
<line x1="219.30" y1="537.20" x2="233.50" y2="537.20" stroke="#000" stroke-width="2.4"/>
<line x1="123.10" y1="564.40" x2="156.20" y2="564.40" stroke="#8c8c8c" stroke-width="1.4"/>
<circle cx="154.80" cy="566.50" r="1.5" fill="#111"/>
<line x1="193.50" y1="564.40" x2="226.50" y2="564.40" stroke="#8c8c8c" stroke-width="1.4"/>
<circle cx="218.50" cy="566.50" r="1.5" fill="#111"/>
<circle cx="222.90" cy="566.50" r="1.5" fill="#111"/>
<path d="M105.80 582.50 L105.80 585.10 L171.00 585.10 L171.00 582.50" fill="none" stroke="#111" stroke-width="2.0" stroke-linejoin="round" stroke-linecap="round"/>
<path d="M176.00 582.50 L176.00 585.10 L241.30 585.10 L241.30 582.50" fill="none" stroke="#111" stroke-width="2.0" stroke-linejoin="round" stroke-linecap="round"/>
<text x="52.50" y="505.70" font-size="13" text-anchor="middle" fill="#111" textLength="97.60" lengthAdjust="spacingAndGlyphs" transform="rotate(-90 52.50 505.70)" >no. of grzB spots</text>
<text x="67.50" y="505.55" font-size="13" text-anchor="middle" fill="#111" textLength="116.50" lengthAdjust="spacingAndGlyphs" transform="rotate(-90 67.50 505.55)" >per T-cell population</text>
<rect x="335.80" y="441.20" width="138.80" height="138.30" fill="none" stroke="#4a4a4a" stroke-width="1.3"/>
<line x1="335.80" y1="441.20" x2="335.80" y2="579.50" stroke="#111" stroke-width="1.4"/>
<line x1="335.80" y1="579.50" x2="474.60" y2="579.50" stroke="#1a1a1a" stroke-width="1.4"/>
<line x1="332.30" y1="440.80" x2="335.80" y2="440.80" stroke="#111" stroke-width="1.1"/>
<text x="330.80" y="444.10" font-size="10" text-anchor="end" fill="#111" textLength="22.20" lengthAdjust="spacingAndGlyphs" >1000</text>
<line x1="332.30" y1="468.54" x2="335.80" y2="468.54" stroke="#111" stroke-width="1.1"/>
<text x="330.80" y="471.84" font-size="10" text-anchor="end" fill="#111" textLength="16.65" lengthAdjust="spacingAndGlyphs" >800</text>
<line x1="332.30" y1="496.28" x2="335.80" y2="496.28" stroke="#111" stroke-width="1.1"/>
<text x="330.80" y="499.58" font-size="10" text-anchor="end" fill="#111" textLength="16.65" lengthAdjust="spacingAndGlyphs" >600</text>
<line x1="332.30" y1="524.02" x2="335.80" y2="524.02" stroke="#111" stroke-width="1.1"/>
<text x="330.80" y="527.32" font-size="10" text-anchor="end" fill="#111" textLength="16.65" lengthAdjust="spacingAndGlyphs" >400</text>
<line x1="332.30" y1="551.76" x2="335.80" y2="551.76" stroke="#111" stroke-width="1.1"/>
<text x="330.80" y="555.06" font-size="10" text-anchor="end" fill="#111" textLength="16.65" lengthAdjust="spacingAndGlyphs" >200</text>
<line x1="332.30" y1="579.50" x2="335.80" y2="579.50" stroke="#111" stroke-width="1.1"/>
<text x="330.80" y="582.80" font-size="10" text-anchor="end" fill="#111" textLength="5.55" lengthAdjust="spacingAndGlyphs" >0</text>
<line x1="352.85" y1="441.20" x2="352.85" y2="455.30" stroke="#222" stroke-width="1.1"/>
<line x1="352.85" y1="526.70" x2="352.85" y2="545.60" stroke="#222" stroke-width="1.1"/>
<line x1="348.70" y1="441.20" x2="357.00" y2="441.20" stroke="#222" stroke-width="1.2"/>
<line x1="348.70" y1="545.60" x2="357.00" y2="545.60" stroke="#222" stroke-width="1.2"/>
<rect x="346.20" y="455.30" width="13.30" height="71.40" fill="#d3d3d3" stroke="#222" stroke-width="1"/>
<line x1="346.20" y1="497.60" x2="359.50" y2="497.60" stroke="#000" stroke-width="2.4"/>
<line x1="388.05" y1="508.50" x2="388.05" y2="534.00" stroke="#222" stroke-width="1.1"/>
<line x1="388.05" y1="554.60" x2="388.05" y2="560.00" stroke="#222" stroke-width="1.1"/>
<line x1="383.90" y1="508.50" x2="392.20" y2="508.50" stroke="#222" stroke-width="1.2"/>
<line x1="383.90" y1="560.00" x2="392.20" y2="560.00" stroke="#222" stroke-width="1.2"/>
<rect x="381.30" y="534.00" width="13.50" height="20.60" fill="#fff" stroke="#222" stroke-width="1"/>
<line x1="381.30" y1="547.90" x2="394.80" y2="547.90" stroke="#000" stroke-width="2.4"/>
<line x1="422.50" y1="509.30" x2="422.50" y2="527.20" stroke="#222" stroke-width="1.1"/>
<line x1="422.50" y1="554.10" x2="422.50" y2="560.60" stroke="#222" stroke-width="1.1"/>
<line x1="418.35" y1="509.30" x2="426.65" y2="509.30" stroke="#222" stroke-width="1.2"/>
<line x1="418.35" y1="560.60" x2="426.65" y2="560.60" stroke="#222" stroke-width="1.2"/>
<rect x="415.40" y="527.20" width="14.20" height="26.90" fill="#d3d3d3" stroke="#222" stroke-width="1"/>
<line x1="415.40" y1="542.00" x2="429.60" y2="542.00" stroke="#000" stroke-width="2.4"/>
<line x1="457.45" y1="502.30" x2="457.45" y2="522.70" stroke="#222" stroke-width="1.1"/>
<line x1="457.45" y1="545.50" x2="457.45" y2="556.80" stroke="#222" stroke-width="1.1"/>
<line x1="453.30" y1="502.30" x2="461.60" y2="502.30" stroke="#222" stroke-width="1.2"/>
<line x1="453.30" y1="556.80" x2="461.60" y2="556.80" stroke="#222" stroke-width="1.2"/>
<rect x="450.20" y="522.70" width="14.50" height="22.80" fill="#fff" stroke="#222" stroke-width="1"/>
<line x1="450.20" y1="535.30" x2="464.70" y2="535.30" stroke="#000" stroke-width="2.4"/>
<line x1="353.10" y1="564.40" x2="385.80" y2="564.40" stroke="#8c8c8c" stroke-width="1.4"/>
<circle cx="383.50" cy="566.50" r="1.5" fill="#111"/>
<line x1="422.70" y1="564.40" x2="455.80" y2="564.40" stroke="#8c8c8c" stroke-width="1.4"/>
<circle cx="447.70" cy="566.50" r="1.5" fill="#111"/>
<circle cx="452.30" cy="566.50" r="1.5" fill="#111"/>
<path d="M336.60 582.60 L336.60 585.80 L401.80 585.80 L401.80 582.60" fill="none" stroke="#111" stroke-width="2.0" stroke-linejoin="round" stroke-linecap="round"/>
<path d="M406.80 582.60 L406.80 585.80 L472.80 585.80 L472.80 582.60" fill="none" stroke="#111" stroke-width="2.0" stroke-linejoin="round" stroke-linecap="round"/>
<text x="288.20" y="506.25" font-size="13" text-anchor="middle" fill="#111" textLength="101.70" lengthAdjust="spacingAndGlyphs" transform="rotate(-90 288.20 506.25)" >no. of IFN-<tspan font-family="Liberation Serif" font-style="italic">γ</tspan> spots</text>
<text x="303.40" y="505.75" font-size="13" text-anchor="middle" fill="#111" textLength="116.90" lengthAdjust="spacingAndGlyphs" transform="rotate(-90 303.40 505.75)" >per T-cell population</text>
<text x="85.70" y="634.20" font-size="10.3" fill="#111" textLength="66.66" lengthAdjust="spacingAndGlyphs" transform="rotate(-39.28 85.70 634.20)">generation with</text>
<text x="100.30" y="637.80" font-size="10.3" fill="#111" textLength="70.94" lengthAdjust="spacingAndGlyphs" transform="rotate(-39.16 100.30 637.80)">Bcr-Abl WT<tspan font-size="0.5em" dx="0.3em" dy="-0.62em">+</tspan><tspan dx="0.0em" dy="0.31em"> </tspan>DC</text>
<text x="159.90" y="635.80" font-size="10.3" fill="#111" textLength="66.21" lengthAdjust="spacingAndGlyphs" transform="rotate(-40.16 159.90 635.80)">generation with</text>
<text x="174.50" y="637.20" font-size="10.3" fill="#111" textLength="68.47" lengthAdjust="spacingAndGlyphs" transform="rotate(-39.55 174.50 637.20)">Bcr-Abl KD<tspan font-size="0.5em" dx="0.3em" dy="-0.62em">+</tspan><tspan dx="0.0em" dy="0.31em"> </tspan>DC</text>
<text x="317.10" y="635.50" font-size="10.3" fill="#111" textLength="67.16" lengthAdjust="spacingAndGlyphs" transform="rotate(-39.26 317.10 635.50)">generation with</text>
<text x="331.90" y="638.10" font-size="10.3" fill="#111" textLength="70.89" lengthAdjust="spacingAndGlyphs" transform="rotate(-38.99 331.90 638.10)">Bcr-Abl WT<tspan font-size="0.5em" dx="0.3em" dy="-0.62em">+</tspan><tspan dx="0.0em" dy="0.31em"> </tspan>DC</text>
<text x="379.40" y="646.20" font-size="10.3" fill="#111" textLength="67.93" lengthAdjust="spacingAndGlyphs" transform="rotate(-40.70 379.40 646.20)">generation with</text>
<text x="366.00" y="669.90" font-size="10.3" fill="#111" textLength="118.78" lengthAdjust="spacingAndGlyphs" transform="rotate(-37.37 366.00 669.90)">IM-treated, Bcr-Abl WT<tspan font-size="0.5em" dx="0.3em" dy="-0.62em">+</tspan><tspan dx="0.0em" dy="0.31em"> </tspan>DC</text>
</svg>
</body></html>
